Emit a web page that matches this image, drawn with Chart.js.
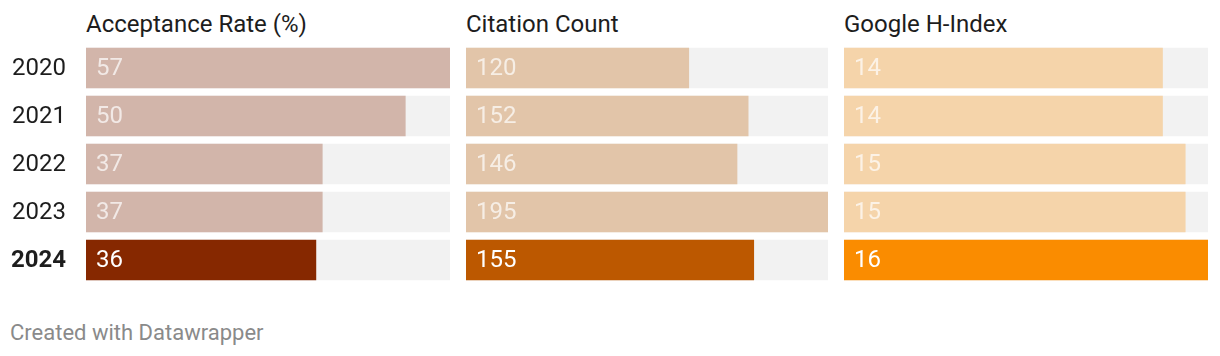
<!DOCTYPE html>
<html>
<head>
<meta charset="utf-8">
<script src="https://cdn.jsdelivr.net/npm/chart.js@4.4.1/dist/chart.umd.min.js"></script>
<style>
  html, body { margin:0; padding:0; background:#fff; }
  body { width:1220px; height:356px; position:relative; overflow:hidden; font-family: Roboto, "Noto Sans", sans-serif; }
  .title { position:absolute; top:12px; font-size:24px; line-height:24px; color:#1d1d1d; white-space:nowrap; }
  .footer { position:absolute; left:10px; top:322px; font-size:22px; line-height:22px; color:#8a8a8a; white-space:nowrap; }
  .wrap { position:absolute; top:44px; height:240px; }
</style>
</head>
<body>
<div class="title" style="left:86px">Acceptance Rate (%)</div>
<div class="title" style="left:466px">Citation Count</div>
<div class="title" style="left:844px">Google H-Index</div>
<div class="wrap" style="left:0;width:450px"><canvas id="c1"></canvas></div>
<div class="wrap" style="left:466px;width:362px"><canvas id="c2"></canvas></div>
<div class="wrap" style="left:844px;width:364px"><canvas id="c3"></canvas></div>
<div class="footer">Created with Datawrapper</div>
<script>
const years = ["2020", "2021", "2022", "2023", "2024"];
const acceptanceRate = [57, 50, 37, 37, 36];
const citationCount = [120, 152, 146, 195, 155];
const hIndex = [14, 14, 15, 15, 16];

const panels = [
  { id: "c1", values: acceptanceRate, faded: "#d2b5aa", strong: "#862800", showYears: true },
  { id: "c2", values: citationCount, faded: "#e2c5a9", strong: "#bc5800", showYears: false },
  { id: "c3", values: hIndex, faded: "#f5d4aa", strong: "#fa8c00", showYears: false }
];

const valueLabels = {
  id: "valueLabels",
  afterDatasetsDraw(chart) {
    const ctx = chart.ctx;
    const meta = chart.getDatasetMeta(0);
    const data = chart.data.datasets[0].data;
    ctx.save();
    ctx.font = "24px Roboto";
    ctx.textBaseline = "middle";
    ctx.textAlign = "left";
    meta.data.forEach((bar, i) => {
      ctx.fillStyle = i === data.length - 1 ? "#ffffff" : "rgba(255,255,255,0.7)";
      ctx.fillText(String(data[i]), bar.base + 10, bar.y + 1);
    });
    ctx.restore();
  }
};

const yearLabels = {
  id: "yearLabels",
  afterDraw(chart, args, opts) {
    if (!opts.show) return;
    const ctx = chart.ctx;
    const y = chart.scales.y;
    ctx.save();
    ctx.textBaseline = "middle";
    ctx.textAlign = "right";
    ctx.fillStyle = "#1d1d1d";
    chart.data.labels.forEach((lab, i) => {
      ctx.font = (i === chart.data.labels.length - 1 ? "bold " : "") + "24px Roboto";
      ctx.fillText(lab, chart.chartArea.left - 20, y.getPixelForValue(i) + 1);
    });
    ctx.restore();
  }
};

panels.forEach(p => {
  const maxVal = Math.max(...p.values);
  new Chart(document.getElementById(p.id), {
    type: "bar",
    data: {
      labels: years,
      datasets: [
        {
          data: p.values,
          backgroundColor: p.values.map((v, i) => i === p.values.length - 1 ? p.strong : p.faded),
          barThickness: 40,
          grouped: false,
          order: 0
        },
        {
          data: p.values.map(() => maxVal),
          backgroundColor: "#f2f2f2",
          barThickness: 40,
          grouped: false,
          order: 1
        }
      ]
    },
    options: {
      indexAxis: "y",
      responsive: true,
      maintainAspectRatio: false,
      animation: false,
      layout: { padding: { left: p.showYears ? 86 : 0, right: 0, top: 0, bottom: 0 } },
      plugins: { legend: { display: false }, tooltip: { enabled: false }, yearLabels: { show: p.showYears } },
      scales: {
        x: { display: false, min: 0, max: maxVal },
        y: { display: false }
      }
    },
    plugins: [valueLabels, yearLabels]
  });
});
</script>
</body>
</html>
